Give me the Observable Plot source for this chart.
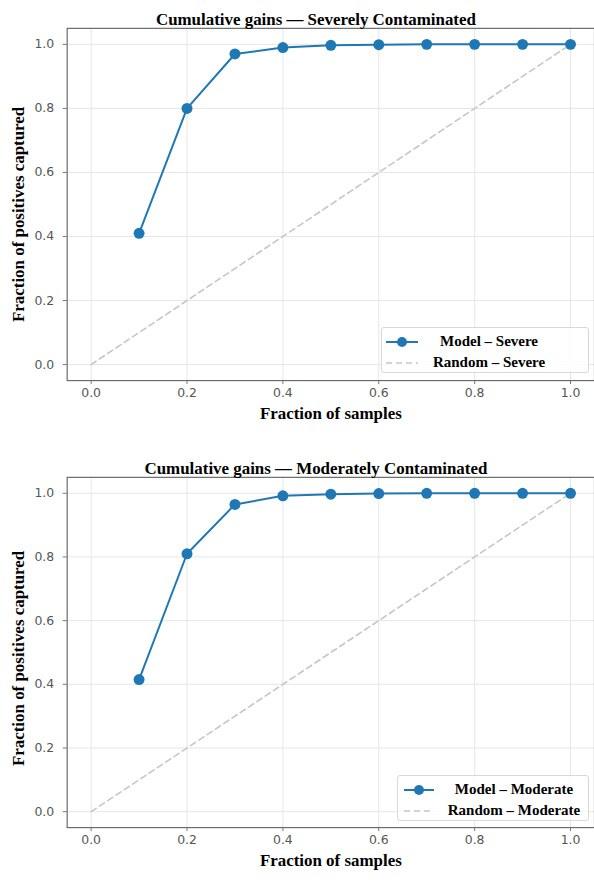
<!DOCTYPE html>
<html>
<head>
<meta charset="utf-8">
<script src="https://cdn.jsdelivr.net/npm/d3@7"></script>
<script src="https://cdn.jsdelivr.net/npm/@observablehq/plot@0.6"></script>
<style>
  html, body { margin: 0; padding: 0; background: #fff; }
  #wrap { position: relative; width: 594px; height: 882px; overflow: hidden; }
  .panel { position: absolute; left: 0; }
  .legend { position: absolute; box-sizing: border-box; border: 1px solid #d8d8d8; border-radius: 3px; background: rgba(255,255,255,0.85);
            font-family: "Liberation Serif", "Times New Roman", serif; font-weight: bold; font-size: 15px; color: #000; }
  .legend .lbl { position: absolute; text-align: center; white-space: nowrap; line-height: 1; }
  .legend svg { position: absolute; overflow: visible; }
</style>
</head>
<body>
<div id="wrap"></div>
<script>
// ---- data ----
const fractions = [0.1, 0.2, 0.3, 0.4, 0.5, 0.6, 0.7, 0.8, 0.9, 1.0];
const severeGains = [0.41, 0.80, 0.97, 0.99, 0.997, 0.999, 1.0, 1.0, 1.0, 1.0];
const moderateGains = [0.415, 0.81, 0.965, 0.992, 0.997, 0.999, 1.0, 1.0, 1.0, 1.0];
const randomX = [0, 1];
const randomY = [0, 1];
const xTicks = [0, 0.2, 0.4, 0.6, 0.8, 1.0];
const yTicks = [0, 0.2, 0.4, 0.6, 0.8, 1.0];
const titles = ["Cumulative gains \u2014 Severely Contaminated", "Cumulative gains \u2014 Moderately Contaminated"];
const modelLabels = ["Model \u2013 Severe", "Model \u2013 Moderate"];
const randomLabels = ["Random \u2013 Severe", "Random \u2013 Moderate"];
const xLabel = "Fraction of samples";
const yLabel = "Fraction of positives captured";

const BLUE = "#1f77b4";
const SERIF = "'Liberation Serif', 'Times New Roman', serif";
const wrap = document.getElementById("wrap");

function panel(i, gains, top, height, marginBottom, yLabelDy, legendPos) {
  const model = fractions.map((x, k) => ({x, y: gains[k]}));
  const random = randomX.map((x, k) => ({x, y: randomY[k]}));
  const chart = Plot.plot({
    width: 597, height, marginLeft: 67, marginRight: 0, marginTop: 28, marginBottom,
    x: {domain: [-0.05, 1.05]},
    y: {domain: [-0.05, 1.05]},
    style: {fontFamily: "'DejaVu Sans', sans-serif", background: "transparent", overflow: "visible"},
    marks: [
      Plot.gridX(xTicks, {stroke: "#e6e6e6", strokeOpacity: 1}),
      Plot.gridY(yTicks, {stroke: "#e6e6e6", strokeOpacity: 1}),
      Plot.axisX(xTicks, {tickFormat: d3.format(".1f"), tickSize: 4, tickPadding: 4, fontSize: 12.5, fill: "#555", stroke: "#777", label: null}),
      Plot.axisY(yTicks, {tickFormat: d3.format(".1f"), tickSize: 4, tickPadding: 9, fontSize: 12.5, fill: "#555", stroke: "#777", label: null}),
      Plot.frame({stroke: "#6a6a6a", strokeWidth: 1.2}),
      Plot.line(random, {x: "x", y: "y", stroke: "#c6c6c6", strokeWidth: 1.6, strokeDasharray: "6,4"}),
      Plot.line(model, {x: "x", y: "y", stroke: BLUE, strokeWidth: 2}),
      Plot.dot(model, {x: "x", y: "y", r: 5.5, fill: BLUE, stroke: "none"}),
      Plot.text([titles[i]], {text: d => d, frameAnchor: "top", dx: -15, dy: -15, fontFamily: SERIF, fontWeight: "bold", fontSize: 17, fill: "#000"}),
      Plot.text([xLabel], {text: d => d, frameAnchor: "bottom", dy: 39, fontFamily: SERIF, fontWeight: "bold", fontSize: 17, fill: "#000"}),
      Plot.text([yLabel], {text: d => d, frameAnchor: "left", textAnchor: "middle", rotate: -90, dx: -49, dy: yLabelDy, fontFamily: SERIF, fontWeight: "bold", fontSize: 17, fill: "#000"})
    ]
  });
  chart.classList.add("panel");
  chart.style.top = top + "px";
  wrap.appendChild(chart);

  // legend
  const lg = document.createElement("div");
  lg.className = "legend";
  Object.assign(lg.style, {left: legendPos.left + "px", top: legendPos.top + "px", width: legendPos.w + "px", height: legendPos.h + "px"});
  const ns = "http://www.w3.org/2000/svg";
  function sample(row, dashed) {
    const s = document.createElementNS(ns, "svg");
    s.setAttribute("width", legendPos.sw); s.setAttribute("height", 12);
    s.style.left = legendPos.sx + "px"; s.style.top = (legendPos.rows[row] - 6) + "px";
    const l = document.createElementNS(ns, "line");
    l.setAttribute("x1", 0); l.setAttribute("x2", legendPos.sw); l.setAttribute("y1", 6); l.setAttribute("y2", 6);
    if (dashed) { l.setAttribute("stroke", "#c6c6c6"); l.setAttribute("stroke-dasharray", "6,4"); l.setAttribute("stroke-width", 1.6); }
    else { l.setAttribute("stroke", BLUE); l.setAttribute("stroke-width", 2); }
    s.appendChild(l);
    if (!dashed) {
      const c = document.createElementNS(ns, "circle");
      c.setAttribute("cx", legendPos.sw / 2); c.setAttribute("cy", 6); c.setAttribute("r", 5); c.setAttribute("fill", BLUE);
      s.appendChild(c);
    }
    lg.appendChild(s);
  }
  function label(row, txt) {
    const t = document.createElement("div");
    t.className = "lbl";
    t.textContent = txt;
    t.style.left = legendPos.tx + "px";
    t.style.width = legendPos.tw + "px";
    t.style.top = (legendPos.rows[row] - 8) + "px";
    lg.appendChild(t);
  }
  sample(0, false); sample(1, true);
  label(0, modelLabels[i]); label(1, randomLabels[i]);
  wrap.appendChild(lg);
}

panel(0, severeGains, 0, 449, 67, 10, {left: 381, top: 327, w: 208, h: 46, sx: 4, sw: 32, tx: 37, tw: 140, rows: [14, 35]});
panel(1, moderateGains, 449, 433, 53, 6, {left: 397, top: 775, w: 192, h: 46, sx: 6, sw: 30, tx: 43, tw: 146, rows: [14, 35]});
</script>
</body>
</html>
